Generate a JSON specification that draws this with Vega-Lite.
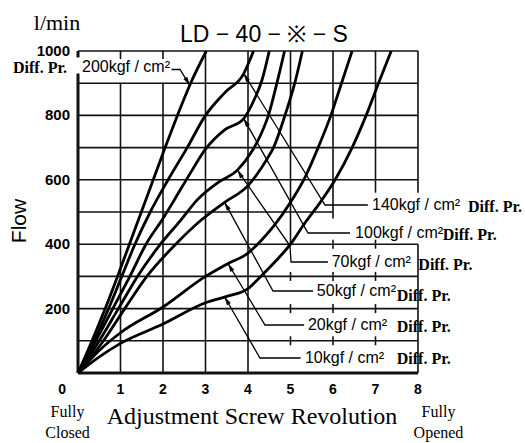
{
  "$schema": "https://vega.github.io/schema/vega-lite/v6.json",
  "width": 340,
  "height": 322,
  "autosize": {"type": "none"},
  "padding": {"left": 78, "top": 51, "right": 107, "bottom": 70},
  "background": "white",
  "config": {"view": {"stroke": null}},
  "datasets": {
    "one": [{}],
    "xticks": [{"rev":1},{"rev":2},{"rev":3},{"rev":4},{"rev":5},{"rev":6},{"rev":7},{"rev":8}],
    "yticks": [{"flow":200},{"flow":400},{"flow":600},{"flow":800},{"flow":1000}],
    "curves": [
      {"p":"200","rev":0,"flow":0},{"p":"200","rev":0.33,"flow":100},{"p":"200","rev":0.64,"flow":200},{"p":"200","rev":0.93,"flow":300},{"p":"200","rev":1.21,"flow":400},{"p":"200","rev":1.49,"flow":500},{"p":"200","rev":1.77,"flow":600},{"p":"200","rev":2.05,"flow":700},{"p":"200","rev":2.34,"flow":800},{"p":"200","rev":2.65,"flow":900},{"p":"200","rev":3.02,"flow":1000},
      {"p":"140","rev":0,"flow":0},{"p":"140","rev":0.38,"flow":100},{"p":"140","rev":0.72,"flow":200},{"p":"140","rev":1.03,"flow":300},{"p":"140","rev":1.34,"flow":400},{"p":"140","rev":1.7,"flow":500},{"p":"140","rev":2.12,"flow":600},{"p":"140","rev":2.57,"flow":700},{"p":"140","rev":3.0,"flow":800},{"p":"140","rev":3.45,"flow":870},{"p":"140","rev":3.9,"flow":930},{"p":"140","rev":4.13,"flow":1000},
      {"p":"100","rev":0,"flow":0},{"p":"100","rev":0.42,"flow":100},{"p":"100","rev":0.82,"flow":200},{"p":"100","rev":1.22,"flow":300},{"p":"100","rev":1.6,"flow":400},{"p":"100","rev":2.0,"flow":480},{"p":"100","rev":2.3,"flow":545},{"p":"100","rev":2.64,"flow":620},{"p":"100","rev":3.0,"flow":695},{"p":"100","rev":3.45,"flow":755},{"p":"100","rev":3.9,"flow":790},{"p":"100","rev":4.15,"flow":850},{"p":"100","rev":4.33,"flow":910},{"p":"100","rev":4.5,"flow":1000},
      {"p":"70","rev":0,"flow":0},{"p":"70","rev":0.5,"flow":100},{"p":"70","rev":0.95,"flow":200},{"p":"70","rev":1.4,"flow":300},{"p":"70","rev":1.94,"flow":400},{"p":"70","rev":2.42,"flow":475},{"p":"70","rev":2.8,"flow":537},{"p":"70","rev":3.3,"flow":592},{"p":"70","rev":3.75,"flow":630},{"p":"70","rev":4.1,"flow":690},{"p":"70","rev":4.3,"flow":740},{"p":"70","rev":4.48,"flow":800},{"p":"70","rev":4.68,"flow":900},{"p":"70","rev":4.86,"flow":1000},
      {"p":"50","rev":0,"flow":0},{"p":"50","rev":0.6,"flow":100},{"p":"50","rev":1.1,"flow":200},{"p":"50","rev":1.62,"flow":300},{"p":"50","rev":2.3,"flow":400},{"p":"50","rev":2.9,"flow":475},{"p":"50","rev":3.45,"flow":530},{"p":"50","rev":4.0,"flow":582},{"p":"50","rev":4.2,"flow":615},{"p":"50","rev":4.45,"flow":665},{"p":"50","rev":4.6,"flow":700},{"p":"50","rev":4.87,"flow":800},{"p":"50","rev":5.1,"flow":900},{"p":"50","rev":5.28,"flow":1000},
      {"p":"20","rev":0,"flow":0},{"p":"20","rev":0.5,"flow":70},{"p":"20","rev":1,"flow":125},{"p":"20","rev":2,"flow":205},{"p":"20","rev":3,"flow":300},{"p":"20","rev":3.5,"flow":338},{"p":"20","rev":4,"flow":372},{"p":"20","rev":4.3,"flow":410},{"p":"20","rev":4.6,"flow":455},{"p":"20","rev":5.0,"flow":530},{"p":"20","rev":5.35,"flow":610},{"p":"20","rev":5.65,"flow":700},{"p":"20","rev":5.95,"flow":800},{"p":"20","rev":6.2,"flow":900},{"p":"20","rev":6.45,"flow":1000},
      {"p":"10","rev":0,"flow":0},{"p":"10","rev":0.5,"flow":50},{"p":"10","rev":1,"flow":92},{"p":"10","rev":2,"flow":152},{"p":"10","rev":3,"flow":218},{"p":"10","rev":3.5,"flow":238},{"p":"10","rev":4,"flow":262},{"p":"10","rev":4.3,"flow":300},{"p":"10","rev":4.67,"flow":350},{"p":"10","rev":5.0,"flow":400},{"p":"10","rev":5.35,"flow":468},{"p":"10","rev":5.7,"flow":530},{"p":"10","rev":6.05,"flow":600},{"p":"10","rev":6.45,"flow":700},{"p":"10","rev":6.78,"flow":800},{"p":"10","rev":7.07,"flow":900},{"p":"10","rev":7.37,"flow":1000}
    ],
    "grid": [
      {"r1":0,"r2":8,"f1":1000,"f2":1000,"part":"grid"},
      {"r1":0,"r2":8,"f1":900,"f2":900,"part":"grid"},
      {"r1":0,"r2":8,"f1":800,"f2":800,"part":"grid"},
      {"r1":0,"r2":8,"f1":700,"f2":700,"part":"grid"},
      {"r1":0,"r2":8,"f1":600,"f2":600,"part":"grid"},
      {"r1":0,"r2":6,"f1":500,"f2":500,"part":"grid"},
      {"r1":0,"r2":8,"f1":400,"f2":400,"part":"grid"},
      {"r1":0,"r2":8,"f1":300,"f2":300,"part":"grid"},
      {"r1":0,"r2":8,"f1":200,"f2":200,"part":"grid"},
      {"r1":0,"r2":8,"f1":100,"f2":100,"part":"grid"},
      {"r1":0,"r2":8,"f1":0,"f2":0,"part":"frame"},
      {"r1":0,"r2":0,"f1":0,"f2":930,"part":"frame"},
      {"r1":0,"r2":0,"f1":980,"f2":1000,"part":"frame"},
      {"r1":1,"r2":1,"f1":0,"f2":900,"part":"grid"},
      {"r1":1,"r2":1,"f1":975,"f2":1000,"part":"grid"},
      {"r1":2,"r2":2,"f1":0,"f2":900,"part":"grid"},
      {"r1":2,"r2":2,"f1":975,"f2":1000,"part":"grid"},
      {"r1":3,"r2":3,"f1":0,"f2":1000,"part":"grid"},
      {"r1":4,"r2":4,"f1":0,"f2":1000,"part":"grid"},
      {"r1":5,"r2":5,"f1":400,"f2":1000,"part":"grid"},
      {"r1":6,"r2":6,"f1":480,"f2":1000,"part":"grid"},
      {"r1":7,"r2":7,"f1":560,"f2":1000,"part":"grid"},
      {"r1":8,"r2":8,"f1":560,"f2":1000,"part":"grid"},
      {"r1":8,"r2":8,"f1":0,"f2":400,"part":"grid"},
      {"r1":5,"r2":5,"f1":86,"f2":114,"part":"grid"},
      {"r1":5,"r2":5,"f1":186,"f2":214,"part":"grid"},
      {"r1":5,"r2":5,"f1":286,"f2":314,"part":"grid"},
      {"r1":6,"r2":6,"f1":86,"f2":114,"part":"grid"},
      {"r1":6,"r2":6,"f1":186,"f2":214,"part":"grid"},
      {"r1":6,"r2":6,"f1":286,"f2":314,"part":"grid"},
      {"r1":6,"r2":6,"f1":386,"f2":414,"part":"grid"},
      {"r1":7,"r2":7,"f1":86,"f2":114,"part":"grid"},
      {"r1":7,"r2":7,"f1":186,"f2":214,"part":"grid"},
      {"r1":7,"r2":7,"f1":286,"f2":314,"part":"grid"},
      {"r1":7,"r2":7,"f1":386,"f2":414,"part":"grid"}
    ],
    "leaders": [
      {"p":"10","k":1,"rev":3.45,"flow":236},{"p":"10","k":2,"rev":4.282,"flow":46.6},{"p":"10","k":3,"rev":5.24,"flow":46.6},
      {"p":"20","k":1,"rev":3.53,"flow":340},{"p":"20","k":2,"rev":4.4,"flow":149.1},{"p":"20","k":3,"rev":5.32,"flow":149.1},
      {"p":"50","k":1,"rev":3.45,"flow":530},{"p":"50","k":2,"rev":4.588,"flow":254.7},{"p":"50","k":3,"rev":5.53,"flow":254.7},
      {"p":"70","k":1,"rev":3.75,"flow":630},{"p":"70","k":2,"rev":4.988,"flow":395},{"p":"70","k":3,"rev":5.012,"flow":344.7},{"p":"70","k":4,"rev":5.88,"flow":344.7},
      {"p":"100","k":1,"rev":3.9,"flow":790},{"p":"100","k":2,"rev":5.412,"flow":434.8},{"p":"100","k":3,"rev":6.4,"flow":434.8},
      {"p":"140","k":1,"rev":3.9,"flow":930},{"p":"140","k":2,"rev":5.812,"flow":521.7},{"p":"140","k":3,"rev":6.82,"flow":521.7},
      {"p":"200","k":1,"rev":2.2,"flow":942.5},{"p":"200","k":2,"rev":2.4,"flow":942.5},{"p":"200","k":3,"rev":2.63,"flow":894}
    ],
    "arrows": [
      {"p":"10","rev":3.497,"flow":225.8},
      {"p":"20","rev":3.578,"flow":329.5},
      {"p":"50","rev":3.494,"flow":519.3},
      {"p":"70","rev":3.804,"flow":619.9},
      {"p":"100","rev":3.946,"flow":779.2},
      {"p":"140","rev":3.948,"flow":919.5}
    ]
  },
  "layer": [
    {
      "data": {"name": "grid"},
      "mark": {"type": "rule", "color": "#111111"},
      "encoding": {
        "x": {"field": "r1", "type": "quantitative", "scale": {"domain": [0, 8], "nice": false, "zero": false}, "axis": null},
        "x2": {"field": "r2"},
        "y": {"field": "f1", "type": "quantitative", "scale": {"domain": [0, 1000], "nice": false, "zero": false}, "axis": null},
        "y2": {"field": "f2"},
        "strokeWidth": {"field": "part", "type": "nominal", "scale": {"domain": ["grid", "frame"], "range": [1.6, 3]}, "legend": null}
      }
    },
    {
      "data": {"name": "curves"},
      "mark": {"type": "line", "color": "#000000", "strokeWidth": 2.8, "interpolate": "monotone", "strokeJoin": "round"},
      "encoding": {
        "x": {"field": "rev", "type": "quantitative", "axis": null},
        "y": {"field": "flow", "type": "quantitative", "axis": null},
        "detail": {"field": "p", "type": "nominal"}
      }
    },
    {
      "data": {"name": "leaders"},
      "mark": {"type": "line", "color": "#000000", "strokeWidth": 1.3},
      "encoding": {
        "x": {"field": "rev", "type": "quantitative", "axis": null},
        "y": {"field": "flow", "type": "quantitative", "axis": null},
        "detail": {"field": "p", "type": "nominal"},
        "order": {"field": "k", "type": "quantitative"}
      }
    },
    {
      "data": {"name": "arrows"},
      "mark": {"type": "point", "shape": "M0,-1L0.5,1L-0.5,1Z", "filled": true, "color": "#000000", "opacity": 1, "size": 81, "angle": 330},
      "encoding": {
        "x": {"field": "rev", "type": "quantitative", "axis": null},
        "y": {"field": "flow", "type": "quantitative", "axis": null}
      }
    },
    {
      "data": {"name": "one"},
      "mark": {"type": "point", "shape": "M0,-1L0.5,1L-0.5,1Z", "filled": true, "color": "#000000", "opacity": 1, "size": 81, "angle": 148},
      "encoding": {"x": {"datum": 2.581, "axis": null}, "y": {"datum": 904.7, "axis": null}}
    },
    {
      "data": {"name": "xticks"},
      "mark": {"type": "text", "font": "Liberation Sans", "fontSize": 14, "fontWeight": "bold", "align": "center", "baseline": "middle", "color": "#000000"},
      "encoding": {"x": {"field": "rev", "type": "quantitative", "axis": null}, "y": {"datum": -52.8, "axis": null}, "text": {"field": "rev", "type": "quantitative", "format": "d"}}
    },
    {
      "data": {"name": "one"},
      "mark": {"type": "text", "font": "Liberation Sans", "fontSize": 14, "fontWeight": "bold", "align": "center", "baseline": "middle", "color": "#000000"},
      "encoding": {"x": {"datum": -0.376, "axis": null}, "y": {"datum": -52.8, "axis": null}, "text": {"value": "0"}}
    },
    {
      "data": {"name": "yticks"},
      "mark": {"type": "text", "font": "Liberation Sans", "fontSize": 15, "fontWeight": "bold", "align": "right", "baseline": "middle", "color": "#000000"},
      "encoding": {"x": {"datum": -0.188, "axis": null}, "y": {"field": "flow", "type": "quantitative", "axis": null}, "text": {"field": "flow", "type": "quantitative", "format": "d"}}
    },
    {
      "data": {"name": "one"},
      "mark": {"type": "text", "font": "Liberation Sans", "fontSize": 21, "align": "center", "baseline": "middle", "angle": 270, "color": "#000000"},
      "encoding": {"x": {"datum": -1.365, "axis": null}, "y": {"datum": 472, "axis": null}, "text": {"value": "Flow"}}
    },
    {
      "data": {"name": "one"},
      "mark": {"type": "text", "font": "Liberation Serif", "fontSize": 24, "align": "center", "baseline": "alphabetic", "color": "#000000"},
      "encoding": {"x": {"datum": 4.094, "axis": null}, "y": {"datum": -158.4, "axis": null}, "text": {"value": "Adjustment Screw Revolution"}}
    },
    {
      "data": {"name": "one"},
      "mark": {"type": "text", "font": "Liberation Sans", "fontSize": 23, "align": "center", "baseline": "alphabetic", "color": "#000000"},
      "encoding": {"x": {"datum": 4.376, "axis": null}, "y": {"datum": 1028, "axis": null}, "text": {"value": "LD − 40 − ※ − S"}}
    },
    {
      "data": {"name": "one"},
      "mark": {"type": "text", "font": "Liberation Serif", "fontSize": 22, "align": "center", "baseline": "alphabetic", "color": "#000000"},
      "encoding": {"x": {"datum": -0.494, "axis": null}, "y": {"datum": 1065, "axis": null}, "text": {"value": "l/min"}}
    },
    {
      "data": {"name": "one"},
      "mark": {"type": "text", "font": "Liberation Serif", "fontSize": 16, "fontWeight": "bold", "align": "center", "baseline": "middle", "color": "#000000"},
      "encoding": {"x": {"datum": -0.894, "axis": null}, "y": {"datum": 946, "axis": null}, "text": {"value": "Diff. Pr."}}
    },
    {
      "data": {"name": "one"},
      "mark": {"type": "text", "font": "Liberation Sans", "fontSize": 16, "align": "left", "baseline": "middle", "color": "#000000"},
      "encoding": {"x": {"datum": 0.094, "axis": null}, "y": {"datum": 950, "axis": null}, "text": {"value": "200kgf / cm²"}}
    },
    {
      "data": {"name": "one"},
      "mark": {"type": "text", "font": "Liberation Sans", "fontSize": 16, "align": "left", "baseline": "middle", "color": "#000000"},
      "encoding": {"x": {"datum": 6.918, "axis": null}, "y": {"datum": 521.7, "axis": null}, "text": {"value": "140kgf / cm²"}}
    },
    {
      "data": {"name": "one"},
      "mark": {"type": "text", "font": "Liberation Sans", "fontSize": 16, "align": "left", "baseline": "middle", "color": "#000000"},
      "encoding": {"x": {"datum": 6.52, "axis": null}, "y": {"datum": 434.8, "axis": null}, "text": {"value": "100kgf / cm²"}}
    },
    {
      "data": {"name": "one"},
      "mark": {"type": "text", "font": "Liberation Sans", "fontSize": 16, "align": "left", "baseline": "middle", "color": "#000000"},
      "encoding": {"x": {"datum": 5.97, "axis": null}, "y": {"datum": 344.7, "axis": null}, "text": {"value": "70kgf / cm²"}}
    },
    {
      "data": {"name": "one"},
      "mark": {"type": "text", "font": "Liberation Sans", "fontSize": 16, "align": "left", "baseline": "middle", "color": "#000000"},
      "encoding": {"x": {"datum": 5.62, "axis": null}, "y": {"datum": 254.7, "axis": null}, "text": {"value": "50kgf / cm²"}}
    },
    {
      "data": {"name": "one"},
      "mark": {"type": "text", "font": "Liberation Sans", "fontSize": 16, "align": "left", "baseline": "middle", "color": "#000000"},
      "encoding": {"x": {"datum": 5.41, "axis": null}, "y": {"datum": 149.1, "axis": null}, "text": {"value": "20kgf / cm²"}}
    },
    {
      "data": {"name": "one"},
      "mark": {"type": "text", "font": "Liberation Sans", "fontSize": 16, "align": "left", "baseline": "middle", "color": "#000000"},
      "encoding": {"x": {"datum": 5.34, "axis": null}, "y": {"datum": 46.6, "axis": null}, "text": {"value": "10kgf / cm²"}}
    },
    {
      "data": {"name": "one"},
      "mark": {"type": "text", "font": "Liberation Serif", "fontSize": 16, "fontWeight": "bold", "align": "left", "baseline": "middle", "color": "#000000"},
      "encoding": {"x": {"datum": 9.176, "axis": null}, "y": {"datum": 516.5, "axis": null}, "text": {"value": "Diff. Pr."}}
    },
    {
      "data": {"name": "one"},
      "mark": {"type": "text", "font": "Liberation Serif", "fontSize": 16, "fontWeight": "bold", "align": "left", "baseline": "middle", "color": "#000000"},
      "encoding": {"x": {"datum": 8.58, "axis": null}, "y": {"datum": 428.6, "axis": null}, "text": {"value": "Diff. Pr."}}
    },
    {
      "data": {"name": "one"},
      "mark": {"type": "text", "font": "Liberation Serif", "fontSize": 16, "fontWeight": "bold", "align": "left", "baseline": "middle", "color": "#000000"},
      "encoding": {"x": {"datum": 8.008, "axis": null}, "y": {"datum": 335.4, "axis": null}, "text": {"value": "Diff. Pr."}}
    },
    {
      "data": {"name": "one"},
      "mark": {"type": "text", "font": "Liberation Serif", "fontSize": 16, "fontWeight": "bold", "align": "left", "baseline": "middle", "color": "#000000"},
      "encoding": {"x": {"datum": 7.5, "axis": null}, "y": {"datum": 239.1, "axis": null}, "text": {"value": "Diff. Pr."}}
    },
    {
      "data": {"name": "one"},
      "mark": {"type": "text", "font": "Liberation Serif", "fontSize": 16, "fontWeight": "bold", "align": "left", "baseline": "middle", "color": "#000000"},
      "encoding": {"x": {"datum": 7.5, "axis": null}, "y": {"datum": 142.9, "axis": null}, "text": {"value": "Diff. Pr."}}
    },
    {
      "data": {"name": "one"},
      "mark": {"type": "text", "font": "Liberation Serif", "fontSize": 16, "fontWeight": "bold", "align": "left", "baseline": "middle", "color": "#000000"},
      "encoding": {"x": {"datum": 7.5, "axis": null}, "y": {"datum": 45, "axis": null}, "text": {"value": "Diff. Pr."}}
    },
    {
      "data": {"name": "one"},
      "mark": {"type": "text", "font": "Liberation Serif", "fontSize": 16, "align": "center", "baseline": "alphabetic", "lineHeight": 21, "color": "#000000"},
      "encoding": {"x": {"datum": -0.247, "axis": null}, "y": {"datum": -136.6, "axis": null}, "text": {"value": ["Fully", "Closed"]}}
    },
    {
      "data": {"name": "one"},
      "mark": {"type": "text", "font": "Liberation Serif", "fontSize": 16, "align": "center", "baseline": "alphabetic", "lineHeight": 21, "color": "#000000"},
      "encoding": {"x": {"datum": 8.482, "axis": null}, "y": {"datum": -136.6, "axis": null}, "text": {"value": ["Fully", "Opened"]}}
    }
  ]
}
